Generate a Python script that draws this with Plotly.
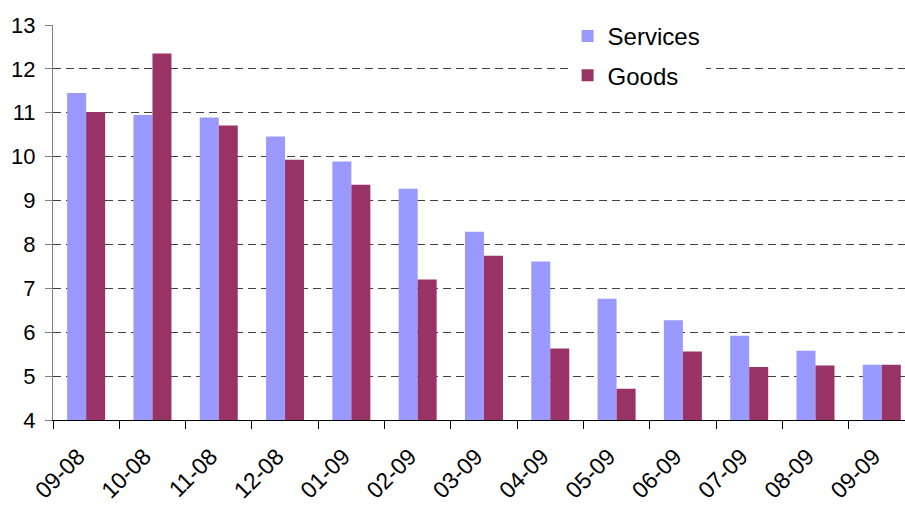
import plotly.graph_objects as go

categories = ["09-08", "10-08", "11-08", "12-08", "01-09", "02-09", "03-09",
              "04-09", "05-09", "06-09", "07-09", "08-09", "09-09"]
services = [11.45, 10.95, 10.89, 10.46, 9.89, 9.27, 8.29, 7.61, 6.76, 6.27, 5.92, 5.58, 5.26]
goods = [11.02, 12.35, 10.71, 9.93, 9.36, 7.20, 7.74, 5.63, 4.71, 5.56, 5.21, 5.24, 5.26]
y_ticks = [4, 5, 6, 7, 8, 9, 10, 11, 12, 13]

font_family = "Liberation Sans, Arial, sans-serif"

fig = go.Figure()
fig.add_trace(go.Bar(x=categories, y=services, name="Services",
                     marker=dict(color="#9999FF", line=dict(width=0)),
                     legendgroup="s"))
fig.add_trace(go.Bar(x=categories, y=goods, name="Goods",
                     marker=dict(color="#993366", line=dict(width=0)),
                     legendgroup="g"))

fig.update_layout(
    width=905, height=506,
    margin=dict(l=53, r=0, t=25, b=86, pad=0),
    paper_bgcolor="white", plot_bgcolor="white",
    barmode="group", bargap=0.427, bargroupgap=0,
    font=dict(family=font_family, size=22, color="black"),
    showlegend=True,
    legend=dict(x=0.604, y=1.028, xanchor="left", yanchor="top",
                bgcolor="white", borderwidth=0,
                font=dict(size=24), tracegroupgap=5,
                itemwidth=30),
)
fig.update_xaxes(
    type="category", range=[-0.5, 12.35], automargin=False,
    showline=True, linecolor="black", linewidth=1,
    ticks="outside", ticklen=8, tickcolor="black", tickson="boundaries",
    tickangle=-45, showgrid=False,
    tickfont=dict(size=23), ticklabelstandoff=13, ticklabelshift=-8,
)
fig.update_yaxes(
    range=[4, 13], tickvals=y_ticks, automargin=False,
    showline=True, linecolor="#808080", linewidth=1,
    ticks="outside", ticklen=7, tickcolor="#808080",
    showgrid=True, gridcolor="#404040", gridwidth=1, griddash="8px,5px",
    zeroline=False, ticklabelstandoff=5,
    tickfont=dict(size=22),
)

fig.write_html("out.html")
